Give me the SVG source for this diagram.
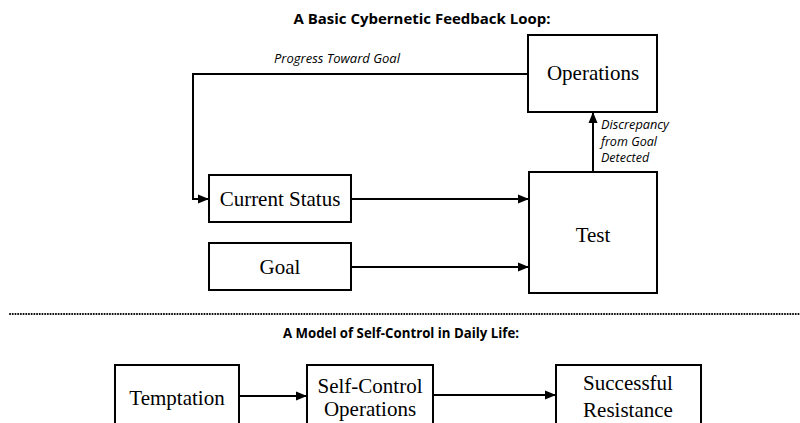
<svg xmlns="http://www.w3.org/2000/svg" width="800" height="423" viewBox="0 0 800 423">
<defs>
<marker id="ah" viewBox="0 0 11 10" refX="11" refY="5" markerWidth="11" markerHeight="10" markerUnits="userSpaceOnUse" orient="auto">
<path d="M0,0.5 L11,5 L0,9.5 Z" fill="#000"/>
</marker>
</defs>
<style>
.box{fill:#fff;stroke:#000;stroke-width:2}
.lbl{font-family:"Liberation Serif","Times New Roman",serif;font-size:21px;fill:#000;text-anchor:middle}
.ttl{font-family:"Open Sans","Liberation Sans",sans-serif;font-weight:bold;font-size:14px;fill:#000;text-anchor:middle}
.it{font-family:"Open Sans","Liberation Sans",sans-serif;font-style:italic;font-size:12.5px;fill:#000}
.con{fill:none;stroke:#000;stroke-width:2}
</style>
<rect width="800" height="423" fill="#fff"/>
<text class="ttl" x="422" y="24" textLength="257" lengthAdjust="spacingAndGlyphs">A Basic Cybernetic Feedback Loop:</text>
<text class="ttl" x="401" y="338" textLength="236" lengthAdjust="spacingAndGlyphs">A Model of Self-Control in Daily Life:</text>
<line x1="10" y1="314" x2="800" y2="314" stroke="#000" stroke-width="2" stroke-dasharray="0.1 2.6" stroke-linecap="round"/>
<g id="connectors">
<polyline class="con" points="528,74 193,74 193,199 209,199" marker-end="url(#ah)"/>
<line class="con" x1="351" y1="199" x2="529" y2="199" marker-end="url(#ah)"/>
<line class="con" x1="351" y1="267" x2="529" y2="267" marker-end="url(#ah)"/>
<line class="con" x1="593" y1="172" x2="593" y2="112" marker-end="url(#ah)"/>
<line class="con" x1="239" y1="396" x2="307" y2="396" marker-end="url(#ah)"/>
<line class="con" x1="433" y1="395" x2="556" y2="395" marker-end="url(#ah)"/>
<text class="it" x="274" y="63" textLength="126" lengthAdjust="spacingAndGlyphs">Progress Toward Goal</text>
<text class="it" x="601" y="129" textLength="68" lengthAdjust="spacingAndGlyphs">Discrepancy</text>
<text class="it" x="601" y="146" textLength="56" lengthAdjust="spacingAndGlyphs">from Goal</text>
<text class="it" x="601" y="162">Detected</text>
</g>
<g id="operations">
<rect class="box" x="528" y="35" width="129" height="77"/>
<text class="lbl" x="593" y="80">Operations</text>
</g>
<g id="current-status">
<rect class="box" x="209" y="175" width="142" height="47"/>
<text class="lbl" x="280" y="206">Current Status</text>
</g>
<g id="goal">
<rect class="box" x="209" y="243" width="142" height="47"/>
<text class="lbl" x="280" y="274">Goal</text>
</g>
<g id="test">
<rect class="box" x="529" y="172" width="128" height="121"/>
<text class="lbl" x="593" y="242">Test</text>
</g>
<g id="temptation">
<rect class="box" x="115" y="365" width="124" height="70"/>
<text class="lbl" x="177" y="405">Temptation</text>
</g>
<g id="self-control">
<rect class="box" x="307" y="365" width="126" height="70"/>
<text class="lbl" x="370" y="393">Self-Control</text>
<text class="lbl" x="370" y="416">Operations</text>
</g>
<g id="successful-resistance">
<rect class="box" x="556" y="365" width="145" height="70"/>
<text class="lbl" x="628" y="390">Successful</text>
<text class="lbl" x="628" y="417">Resistance</text>
</g>
</svg>
